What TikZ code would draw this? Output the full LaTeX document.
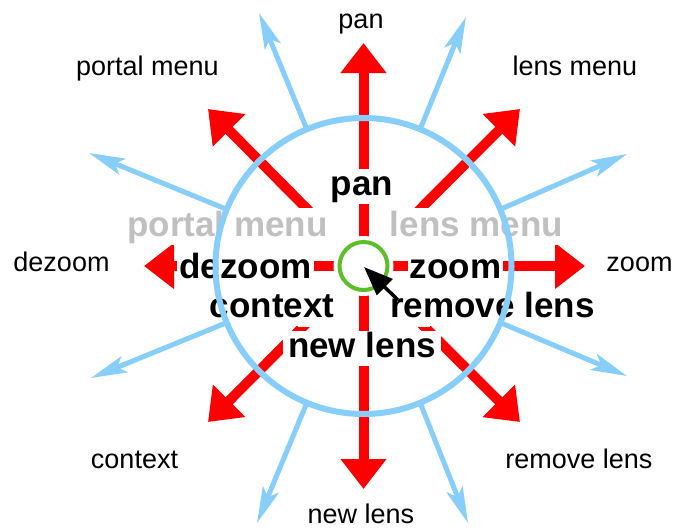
\documentclass[tikz,border=0pt]{standalone}
\usepackage{fontspec}
\setmainfont{Liberation Sans}
\usetikzlibrary{arrows.meta}
\definecolor{myred}{RGB}{255,0,0}
\definecolor{myblue}{RGB}{135,206,250}
\definecolor{mygreen}{RGB}{92,190,40}
\definecolor{mygray}{RGB}{192,192,192}
\begin{document}
\begin{tikzpicture}[x=1pt,y=-1pt,
 redarrow/.style={draw=myred, line width=10pt, -{Triangle[length=30pt,width=44pt]}},
 bluearrow/.style={draw=myblue, line width=5pt, -{Stealth[length=36pt,width=17pt,inset=8pt]}},
 biglabel/.style={font=\fontsize{35}{35}\selectfont\bfseries, fill=white, inner xsep=2pt, inner ysep=1pt, text height=25pt, text depth=8pt, anchor=base},
 graylabel/.style={biglabel, text=mygray},
 smalllabel/.style={font=\fontsize{27}{27}\selectfont, inner sep=0pt, anchor=base},
 mask/.style={fill=white},
]
\useasboundingbox (0,0) rectangle (674,530);
\coordinate (c) at (363.5,266);
% red arrow tips
\coordinate (rN) at (363.5,43);
\coordinate (rS) at (363.5,489);
\coordinate (rW) at (144,266);
\coordinate (rE) at (585,266);
\coordinate (rNW) at (208,109);
\coordinate (rNE) at (520,109);
\coordinate (rSW) at (208,422);
\coordinate (rSE) at (520,422);
\foreach \t in {rN,rS,rW,rE,rNW,rNE,rSW,rSE}{\draw[redarrow] (c) -- (\t);}
% white backgrounds around the centre
\fill[white] (c) circle (30);
\fill[mask] (298,208) rectangle (357.5,254);
\fill[mask] (369.5,208) rectangle (430,254);
\fill[mask] (298,277) rectangle (357.5,327);
\fill[mask] (369.5,277) rectangle (430,327);
% big labels
\node[biglabel] (lpan) at (362,195) {pan};
\node[graylabel] (lportal) at (227.5,236) {portal menu};
\node[graylabel] (llens) at (476.5,236) {lens menu};
\node[biglabel] (ldezoom) at (245.5,278) {dezoom};
\node[biglabel] (lzoom) at (455.5,278) {zoom};
\node[biglabel] (lcontext) at (272,317) {context};
\node[biglabel] (lremove) at (492.5,317) {remove lens};
\node[biglabel, inner xsep=5pt] (lnew) at (362,357) {new lens};
% outer labels
\node[smalllabel] (opan) at (361,28) {pan};
\node[smalllabel] (oportal) at (147.5,75) {portal menu};
\node[smalllabel] (olens) at (575,75) {lens menu};
\node[smalllabel] (odezoom) at (61.5,271) {dezoom};
\node[smalllabel] (ozoom) at (639.5,271) {zoom};
\node[smalllabel] (ocontext) at (134.5,468) {context};
\node[smalllabel] (oremove) at (579,468) {remove lens};
\node[smalllabel] (onew) at (361,523) {new lens};
% blue circle
\draw[myblue, line width=6pt] (c) circle (148);
% blue arrows
\coordinate (b1s) at (500.2,209.4); \coordinate (b1t) at (627,154);
\coordinate (b2s) at (420.1,129.3); \coordinate (b2t) at (466,17);
\coordinate (b3s) at (306.9,129.3); \coordinate (b3t) at (259,13);
\coordinate (b4s) at (226.8,209.4); \coordinate (b4t) at (89,153);
\coordinate (b5s) at (226.8,322.6); \coordinate (b5t) at (91,378);
\coordinate (b6s) at (306.9,402.7); \coordinate (b6t) at (257,523);
\coordinate (b7s) at (420.1,402.7); \coordinate (b7t) at (468,523);
\coordinate (b8s) at (500.2,322.6); \coordinate (b8t) at (627,376);
\foreach \i in {1,...,8}{\draw[bluearrow] (b\i s) -- (b\i t);}
% green circle
\draw[white, line width=7pt] (c) circle (24);
\draw[mygreen, line width=4pt] (c) circle (24);
% cursor
\coordinate (ctip) at (364,267);
\coordinate (ctail) at (398,300);
\draw[black, line width=3.5pt, -{Triangle[length=29pt,width=22pt]}] (ctail) -- (ctip);
\end{tikzpicture}
\end{document}
